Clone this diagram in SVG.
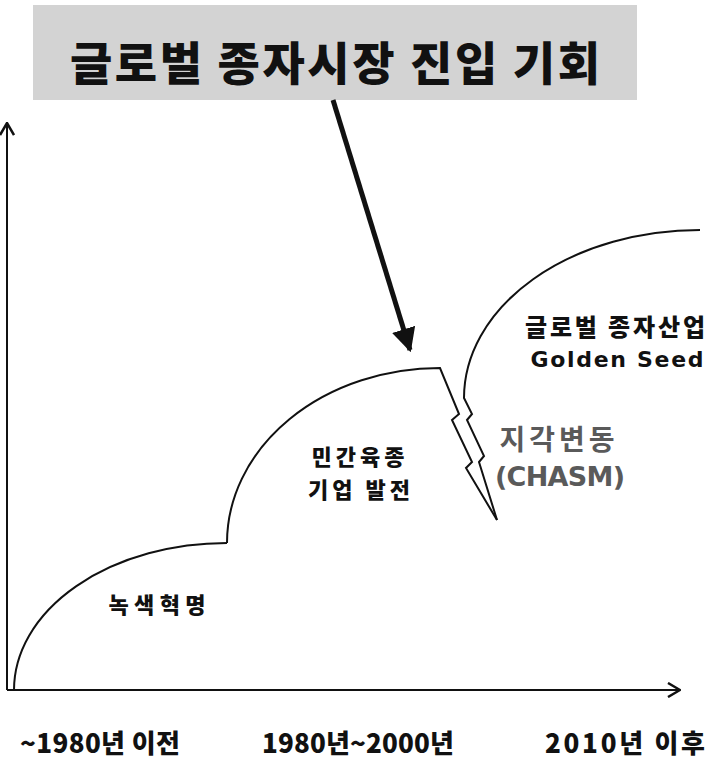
<svg xmlns="http://www.w3.org/2000/svg" width="720" height="763" viewBox="0 0 720 763">
<style>
.k{font-family:"Noto Sans CJK KR","Noto Sans",sans-serif;font-weight:900;fill:#111}
.g{font-family:"Noto Sans CJK KR","Noto Sans",sans-serif;font-weight:700;fill:#5a5a5a}
.ln{fill:none;stroke:#111;stroke-width:2;stroke-linejoin:miter}
.ax{fill:none;stroke:#111;stroke-width:2}
</style>
<defs>
<marker id="chev" viewBox="0 0 14 16" refX="13" refY="8" markerWidth="14" markerHeight="16" markerUnits="userSpaceOnUse" orient="auto">
<path d="M1,1 L13,8 L1,15" fill="none" stroke="#111" stroke-width="2.5"/>
</marker>
<marker id="tri" viewBox="0 0 10 10" refX="9" refY="5" markerWidth="4.8" markerHeight="4.8" orient="auto">
<path d="M0,0 L10,5 L0,10 z" fill="#111"/>
</marker>
</defs>
<rect width="720" height="763" fill="#fff"/>
<g id="title">
<rect x="33" y="5" width="604" height="95" fill="#d3d3d3"/>
<text class="k" x="335" y="80" font-size="46" text-anchor="middle" textLength="530" lengthAdjust="spacing">글로벌 종자시장 진입 기회</text>
</g>
<g id="connectors">
<line class="ax" x1="7" y1="690" x2="7" y2="123" marker-end="url(#chev)"/>
<line class="ax" x1="7" y1="690" x2="680" y2="690" marker-end="url(#chev)"/>
<line x1="333" y1="100" x2="410" y2="350" stroke="#111" stroke-width="5" marker-end="url(#tri)"/>
</g>
<g id="stage1">
<path class="ln" d="M14,690 A213,147 0 0 1 227,543"/>
<text class="k" x="157" y="613" font-size="22" text-anchor="middle" textLength="97" lengthAdjust="spacing">녹색혁명</text>
</g>
<g id="stage2">
<path class="ln" d="M227,543 A213,175 0 0 1 440,368 L459,414 L452,420 L472,462 L466,468 L497,520"/>
<text class="k" x="358" y="465" font-size="22" text-anchor="middle" textLength="93" lengthAdjust="spacing">민간육종</text>
<text class="k" x="359" y="498" font-size="22" text-anchor="middle" textLength="102" lengthAdjust="spacing">기업 발전</text>
</g>
<g id="stage3">
<path class="ln" d="M497,520 L479,462 L484,456 L467,420 L472,414 L464,398 A236,168 0 0 1 700,230"/>
<text class="k" x="615" y="336" font-size="24" text-anchor="middle" textLength="180" lengthAdjust="spacing">글로벌 종자산업</text>
<text class="k" x="617" y="367" font-size="22" text-anchor="middle" textLength="173" lengthAdjust="spacing" style="font-family:'DejaVu Sans',sans-serif;font-weight:700">Golden Seed</text>
</g>
<g id="chasm">
<text class="g" x="557" y="450" font-size="28" text-anchor="middle" textLength="115" lengthAdjust="spacing">지각변동</text>
<text class="g" x="560" y="486" font-size="27" text-anchor="middle" textLength="130" lengthAdjust="spacing" style="font-family:'DejaVu Sans',sans-serif;font-weight:700">(CHASM)</text>
</g>
<g id="xlabels">
<text class="k" x="100" y="753" font-size="26" text-anchor="middle" textLength="160" lengthAdjust="spacing">~1980년 이전</text>
<text class="k" x="358" y="753" font-size="26" text-anchor="middle" textLength="192" lengthAdjust="spacing">1980년~2000년</text>
<text class="k" x="625" y="753" font-size="26" text-anchor="middle" textLength="160" lengthAdjust="spacing">2010년 이후</text>
</g>
</svg>
